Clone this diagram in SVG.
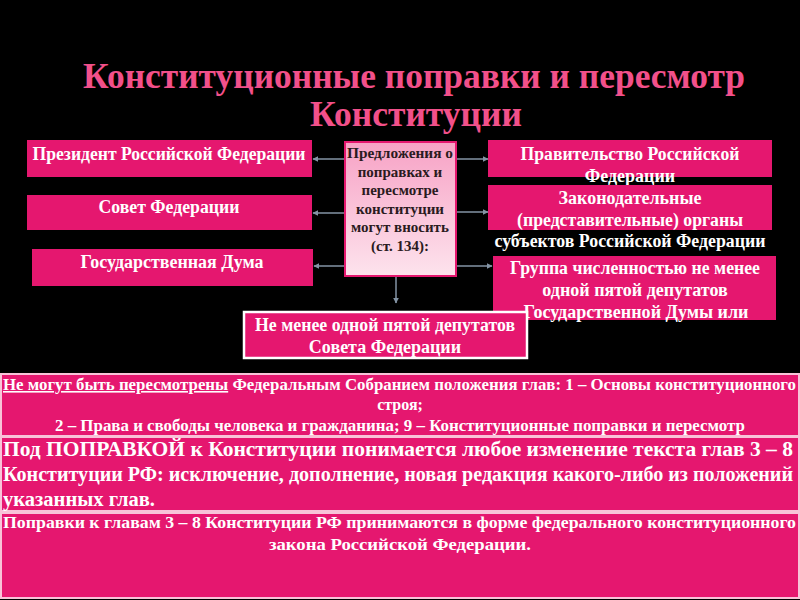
<svg xmlns="http://www.w3.org/2000/svg" width="800" height="600" viewBox="0 0 800 600">
<defs>
<style>
.box{fill:#e5176f}
.wt{fill:#ffffff;font-family:"Liberation Serif","Times New Roman",serif;font-weight:bold;font-size:18px;text-anchor:middle}
.dk{fill:#2a1a20;font-family:"Liberation Serif","Times New Roman",serif;font-weight:bold;font-size:15px;text-anchor:middle}
.title{fill:#f2508a;font-family:"Liberation Serif","Times New Roman",serif;font-weight:bold;font-size:36px;text-anchor:middle}
.pn{fill:#e5176f;stroke:#f8c3d8;stroke-width:2}
.p1{fill:#ffffff;font-family:"Liberation Serif","Times New Roman",serif;font-weight:bold;font-size:16px}
.p2{fill:#ffffff;font-family:"Liberation Serif","Times New Roman",serif;font-weight:bold;font-size:20px}
.con{stroke:#8393a4;stroke-width:1.5;fill:none;marker-end:url(#ah)}
</style>
<linearGradient id="cg" x1="0" y1="0" x2="0" y2="1">
<stop offset="0" stop-color="#f7a2c5"/>
<stop offset="1" stop-color="#fde3ed"/>
</linearGradient>
<marker id="ah" viewBox="0 0 10 10" refX="9" refY="5" markerWidth="4" markerHeight="4" orient="auto">
<path d="M0,0 L10,5 L0,10 z" fill="#8393a4"/>
</marker>
</defs>
<rect x="0" y="0" width="800" height="600" fill="#000000"/>

<g id="title">
<text class="title" x="414" y="88" textLength="662" lengthAdjust="spacingAndGlyphs">Конституционные поправки и пересмотр</text>
<text class="title" x="416" y="126" textLength="212" lengthAdjust="spacingAndGlyphs">Конституции</text>
</g>

<g id="connectors">
<line class="con" x1="345" y1="159" x2="313" y2="159"/>
<line class="con" x1="345" y1="213" x2="313" y2="213"/>
<line class="con" x1="345" y1="266" x2="314" y2="266"/>
<line class="con" x1="456" y1="159" x2="488" y2="159"/>
<line class="con" x1="456" y1="212" x2="488" y2="212"/>
<line class="con" x1="456" y1="266" x2="492" y2="266"/>
<line class="con" x1="396" y1="277" x2="396" y2="303"/>
</g>

<g id="center">
<rect x="345" y="142" width="111" height="134" fill="url(#cg)" stroke="#e5176f" stroke-width="2"/>
<text class="dk" x="400" y="158" textLength="106" lengthAdjust="spacingAndGlyphs">Предложения о</text>
<text class="dk" x="400" y="177">поправках и</text>
<text class="dk" x="400" y="195">пересмотре</text>
<text class="dk" x="400" y="214">конституции</text>
<text class="dk" x="400" y="232">могут вносить</text>
<text class="dk" x="400" y="251">(ст. 134):</text>
</g>

<g id="president">
<rect class="box" x="27" y="140" width="285" height="37"/>
<text class="wt" x="169" y="160" textLength="273" lengthAdjust="spacingAndGlyphs">Президент Российской Федерации</text>
</g>
<g id="sovet">
<rect class="box" x="27" y="195" width="285" height="35"/>
<text class="wt" x="169" y="213" textLength="141" lengthAdjust="spacingAndGlyphs">Совет Федерации</text>
</g>
<g id="duma">
<rect class="box" x="32" y="249" width="281" height="37"/>
<text class="wt" x="172" y="268" textLength="183" lengthAdjust="spacingAndGlyphs">Государственная Дума</text>
</g>

<g id="government">
<rect class="box" x="488" y="140" width="284" height="37"/>
<text class="wt" x="630" y="160" textLength="219" lengthAdjust="spacingAndGlyphs">Правительство Российской</text>
<text class="wt" x="630" y="182">Федерации</text>
</g>
<g id="legislative">
<rect class="box" x="488" y="185" width="284" height="45"/>
<text class="wt" x="630" y="204">Законодательные</text>
<text class="wt" x="630" y="226" textLength="226" lengthAdjust="spacingAndGlyphs">(представительные) органы</text>
<text class="wt" x="630" y="247" textLength="271" lengthAdjust="spacingAndGlyphs">субъектов Российской Федерации</text>
</g>
<g id="group">
<rect class="box" x="493" y="256" width="283" height="64"/>
<text class="wt" x="635" y="274" textLength="250" lengthAdjust="spacingAndGlyphs">Группа численностью не менее</text>
<text class="wt" x="635" y="296">одной пятой депутатов</text>
<text class="wt" x="636" y="318" textLength="225" lengthAdjust="spacingAndGlyphs">Государственной Думы  или</text>
</g>
<g id="senators">
<rect class="box" x="244" y="312" width="283" height="46" stroke="#ffffff" stroke-width="2.5"/>
<text class="wt" x="385" y="331" textLength="260" lengthAdjust="spacingAndGlyphs">Не менее одной пятой депутатов</text>
<text class="wt" x="385" y="353">Совета Федерации</text>
</g>

<g id="panel1">
<rect class="pn" x="1" y="374" width="798" height="62"/>
<text class="p1" x="3" y="390" textLength="793" lengthAdjust="spacingAndGlyphs"><tspan text-decoration="underline">Не могут быть пересмотрены</tspan> Федеральным Собранием положения глав:  1 – Основы конституционного</text>
<text class="p1" x="400" y="410" text-anchor="middle">строя;</text>
<text class="p1" x="400" y="431" text-anchor="middle" textLength="690" lengthAdjust="spacingAndGlyphs">2 – Права и свободы человека и гражданина;   9 – Конституционные поправки и пересмотр</text>
</g>

<g id="panel2">
<rect class="pn" x="1" y="437" width="798" height="74"/>
<text class="p2" x="3" y="456" textLength="790" lengthAdjust="spacingAndGlyphs">Под  ПОПРАВКОЙ  к Конституции понимается любое изменение текста глав 3 – 8</text>
<text class="p2" x="3" y="481" textLength="790" lengthAdjust="spacingAndGlyphs">Конституции  РФ: исключение, дополнение, новая редакция какого-либо из положений</text>
<text class="p2" x="3" y="506" textLength="152" lengthAdjust="spacingAndGlyphs">указанных глав.</text>
</g>

<g id="panel3">
<rect class="pn" x="1" y="513" width="798" height="85"/>
<text class="p1" x="3" y="528" textLength="793" lengthAdjust="spacingAndGlyphs">Поправки к главам 3 – 8 Конституции РФ принимаются в форме федерального конституционного</text>
<text class="p1" x="400" y="550" text-anchor="middle" textLength="262" lengthAdjust="spacingAndGlyphs">закона Российской Федерации.</text>
</g>
</svg>
